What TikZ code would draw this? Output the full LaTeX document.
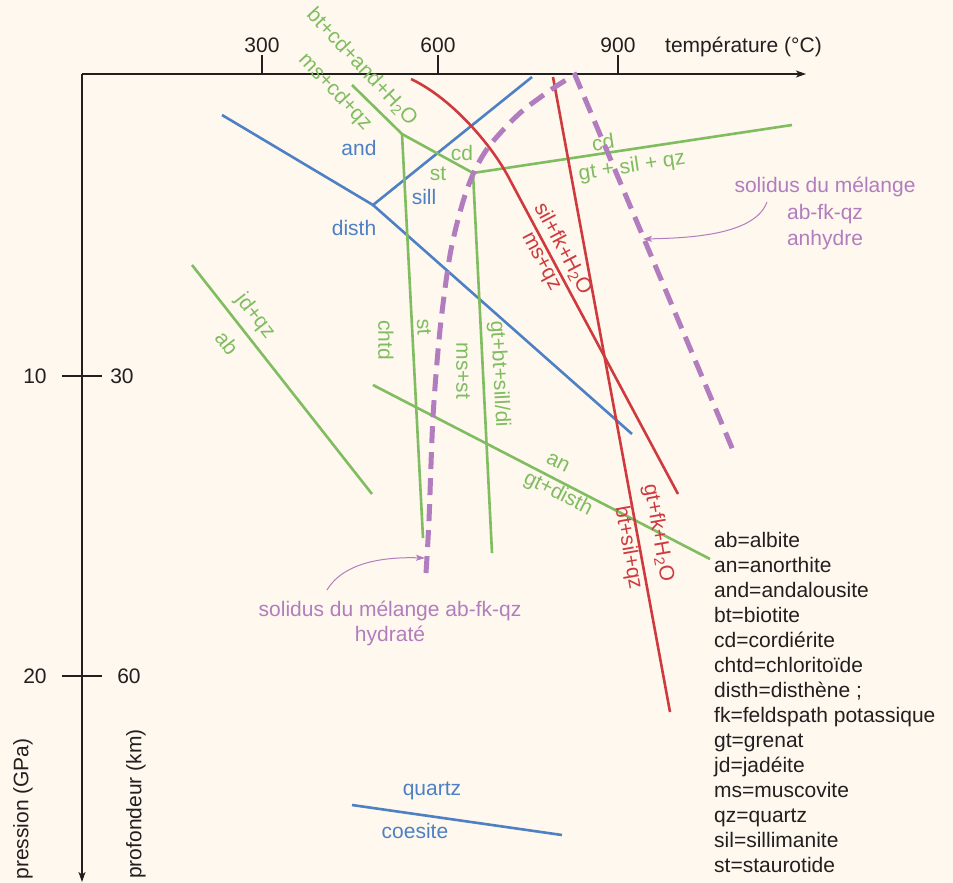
\documentclass[tikz,border=0pt]{standalone}
\usepackage{fontspec}
\setmainfont{Liberation Sans}
\usetikzlibrary{arrows.meta}
\definecolor{bgcream}{HTML}{FEF8EE}
\definecolor{axisgray}{HTML}{231F20}
\definecolor{phgreen}{HTML}{80BC60}
\definecolor{phblue}{HTML}{4D80C4}
\definecolor{phred}{HTML}{CF3A3E}
\definecolor{phpurple}{HTML}{B27DBE}
\tikzset{
  axisline/.style={draw=axisgray, line width=1.3pt, -{Stealth[length=10pt, width=7pt, inset=2.5pt]}},
  tickline/.style={draw=axisgray, line width=1.8pt},
  greenline/.style={draw=phgreen, line width=2.6pt},
  blueline/.style={draw=phblue, line width=2.6pt},
  redline/.style={draw=phred, line width=2.6pt},
  solidusline/.style={draw=phpurple, line width=5pt, dash pattern=on 17pt off 9pt},
  pointer/.style={draw=phpurple, line width=1pt, -{Stealth[length=9pt, width=6pt, inset=2pt]}},
  greentext/.style={text=phgreen},
  bluetext/.style={text=phblue},
  redtext/.style={text=phred},
  purpletext/.style={text=phpurple},
}

\begin{document}
\begin{tikzpicture}[x=1pt, y=-1pt, inner sep=0pt,
    font=\fontsize{21}{25}\selectfont, text=axisgray]
  \useasboundingbox[fill=bgcream] (0,0) rectangle (953,883);

  % axes
  \coordinate (O) at (82,74);
  \draw[axisline] (O) -- (806,74);
  \draw[axisline] (O) -- (82,882);
  \draw[tickline] (262,55) -- (262,74);
  \draw[tickline] (438,55) -- (438,74);
  \draw[tickline] (618,55) -- (618,74);
  \node[anchor=base] (t300) at (262,53) {300};
  \node[anchor=base] (t600) at (438,53) {600};
  \node[anchor=base] (t900) at (618,53) {900};
  \node[anchor=base west] (tlabel) at (665,53) {température (°C)};
  \draw[tickline] (62,376) -- (102,376);
  \draw[tickline] (62,676) -- (102,676);
  \node (p10) at (35,376) {10};
  \node (d30) at (122,376) {30};
  \node (p20) at (35,676) {20};
  \node (d60) at (129,676) {60};
  \node[rotate=90] (plabel) at (23,809) {pression (GPa)};
  \node[rotate=90] (dlabel) at (136,804) {profondeur (km)};

  % triple points
  \coordinate (tpAl) at (373,205);
  \coordinate (tpMs) at (402,134);
  \coordinate (tpCd) at (473,173);

  % blue: Al2SiO5 and quartz/coesite
  \draw[blueline] (222,115) -- (tpAl) -- (532,77);
  \draw[blueline] (tpAl) -- (632,434);
  \draw[blueline] (352,805) -- (562,835);
  \node[bluetext] (andl) at (359,148) {and};
  \node[bluetext] (silll) at (424,197) {sill};
  \node[bluetext] (disthl) at (354,228) {disth};
  \node[bluetext, anchor=base] (quartzl) at (432,795) {quartz};
  \node[bluetext, anchor=base] (coesl) at (415,838) {coesite};

  % green reactions
  \draw[greenline] (352,85) -- (tpMs) -- (tpCd) -- (792,125);
  \draw[greenline] (tpMs) -- (423,538);
  \draw[greenline] (tpCd) -- (492,553);
  \draw[greenline] (192,265) -- (372,494);
  \draw[greenline] (373,385) -- (710,559);
  \node[greentext, rotate=-47] (btcd) at (362,67) {bt+cd+and+H\textsubscript{2}O};
  \node[greentext, rotate=-47] (mscd) at (335,92) {ms+cd+qz};
  \node[greentext] (cdA) at (462,153) {cd};
  \node[greentext] (stA) at (438,174) {st};
  \node[greentext, rotate=8.5] (cdB) at (603,142) {cd};
  \node[greentext, rotate=8.5] (gtsil) at (632,167) {gt + sil + qz};
  \node[greentext, rotate=-52] (jdqz) at (255,316) {jd+qz};
  \node[greentext, rotate=-52] (abl) at (227,343) {ab};
  \node[greentext, rotate=-90] (chtd) at (386,340) {chtd};
  \node[greentext, rotate=-87] (stB) at (424,327) {st};
  \node[greentext, rotate=-90] (msst) at (463,371) {ms+st};
  \node[greentext, rotate=-87] (gtbt) at (499,374) {gt+bt+sill/di};
  \node[greentext, rotate=-27] (anl) at (558,463) {an};
  \node[greentext, rotate=-27] (gtdisth) at (558,494) {gt+disth};

  % red dehydration melting
  \draw[redline] (411,79) .. controls (455,100) and (495,150) .. (510,180) -- (678,494);
  \draw[redline] (553,77) -- (670,712);
  \node[redtext, rotate=-62] (silfk) at (563,249) {sil+fk+H\textsubscript{2}O};
  \node[redtext, rotate=-62] (msqz) at (540,262) {ms+qz};
  \node[redtext, rotate=-80] (gtfk) at (658,533) {gt+fk+H\textsubscript{2}O};
  \node[redtext, rotate=-80] (btsil) at (628,548) {bt+sil+qz};

  % solidus curves
  \draw[solidusline] plot[smooth] coordinates {(426,573) (429,520) (433,417) (440,330)
    (450,255) (462,205) (474,172) (490,145) (520,113) (555,87) (575,75)} -- (735,455);
  \node[purpletext, align=center, anchor=north, font=\fontsize{21}{26.5}\selectfont]
    (anhydl) at (825,177) {solidus du mélange\\ab-fk-qz\\anhydre};
  \node[purpletext, align=center, anchor=north] (hydrl) at (390,601)
    {solidus du mélange ab-fk-qz\\hydraté};
  \coordinate (anhydtip) at (643,239);
  \coordinate (hydrtip) at (425,558);
  \draw[pointer] (767,202) .. controls (755,235) and (690,238) .. (anhydtip);
  \draw[pointer] (327,590) .. controls (345,560) and (390,557) .. (hydrtip);

  % abbreviations
  \node[anchor=north west, align=left] (legend) at (714,532)
    {ab=albite\\an=anorthite\\and=andalousite\\bt=biotite\\cd=cordiérite\\chtd=chloritoïde\\disth=disthène ;\\fk=feldspath potassique\\gt=grenat\\jd=jadéite\\ms=muscovite\\qz=quartz\\sil=sillimanite\\st=staurotide};
\end{tikzpicture}
\end{document}
